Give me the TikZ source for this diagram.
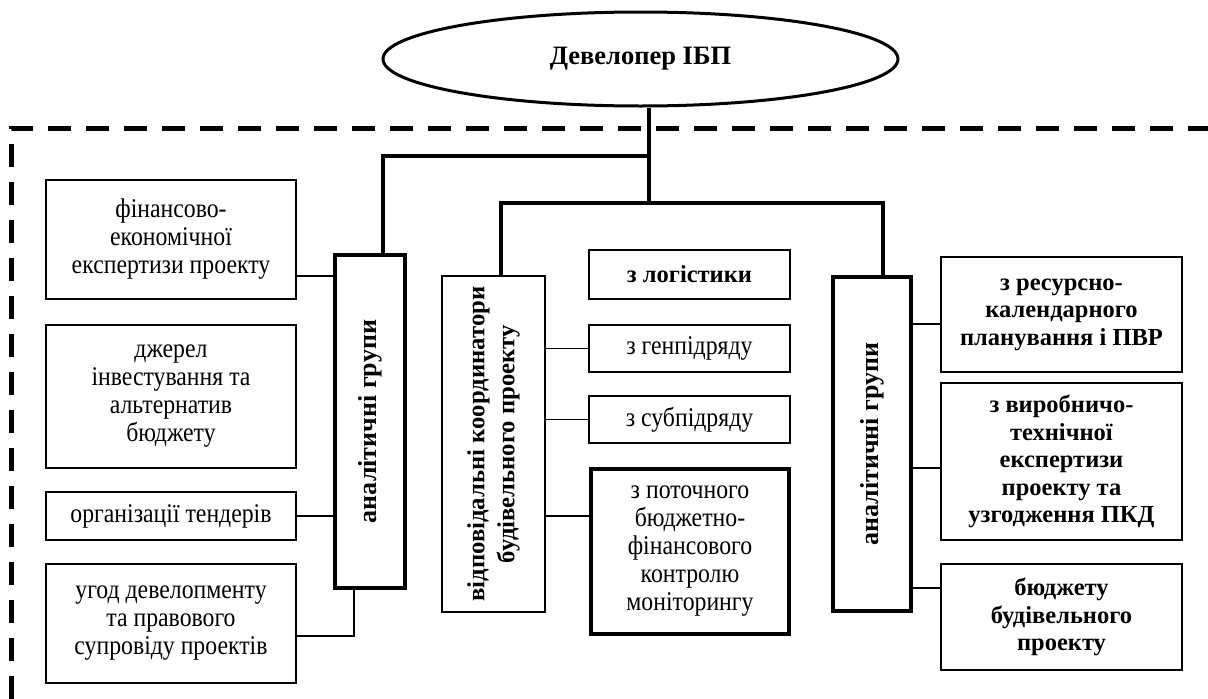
\documentclass[tikz,border=0pt]{standalone}
\usepackage{fontspec}
\setmainfont{Liberation Serif}
\newfontfamily\regfont{Liberation Serif}[FakeStretch=0.88]
\usetikzlibrary{shapes.geometric}
\tikzset{
  thinbox/.style={draw, line width=1.5pt, align=center, inner sep=0pt, font=\regfont\fontsize{27}{28}\selectfont},
  boldbox/.style={draw, line width=1.5pt, align=center, inner sep=0pt, font=\fontsize{24.5}{27.5}\selectfont\bfseries},
  thickbox/.style={thinbox, line width=4pt},
  vbox/.style={draw, line width=4pt, rotate=90, align=center, inner sep=0pt, font=\fontsize{26}{30}\selectfont\bfseries},
  thickline/.style={line width=4pt},
  thinline/.style={line width=1.5pt},
  frame/.style={line width=5pt, dash pattern=on 23pt off 15pt},
}
\begin{document}
\begin{tikzpicture}[x=1pt,y=-1pt]
\useasboundingbox (0,0) rectangle (1208,699);
% dashed frame
\draw[frame] (11,699) -- (11,128) -- (1208,128);
% top ellipse
\node[draw, ellipse, line width=3pt, minimum width=515pt, minimum height=94pt, inner sep=0pt,
      font=\fontsize{26.5}{28}\selectfont\bfseries] (dev) at (640.5,59) {Девелопер ІБП};
% left boxes
\node[thinbox, minimum width=250pt, minimum height=119pt] (fin) at (171,239.5) {фінансово-\\економічної\\експертизи проекту};
\node[thinbox, minimum width=250pt, minimum height=143pt] (dzh) at (171,396.5) {джерел\\інвестування та\\альтернатив\\бюджету};
\node[thinbox, minimum width=250pt, minimum height=48pt] (org) at (171,516) {організації тендерів};
\node[thinbox, minimum width=250pt, minimum height=119pt] (ugod) at (171,623.5) {угод девелопменту\\та правового\\супровіду проектів};
% left analytic groups
\node[vbox, minimum width=333pt, minimum height=70pt] (lag) at (370,421.5) {аналітичні групи};
% coordinators
\node[vbox, line width=1.5pt, minimum width=336pt, minimum height=103pt, font=\fontsize{24.7}{30}\selectfont\bfseries] (coord) at (493.5,444) {відповідальні координатори\\будівельного проекту};
% middle boxes
\node[boldbox, minimum width=201pt, minimum height=49pt] (log) at (689.5,274.5) {з логістики};
\node[thinbox, minimum width=201pt, minimum height=47pt] (gen) at (689.5,348.5) {з генпідряду};
\node[thinbox, minimum width=201pt, minimum height=47pt] (sub) at (689.5,419.5) {з субпідряду};
\node[thickbox, minimum width=198pt, minimum height=165pt] (pot) at (690,551.5) {з поточного\\бюджетно-\\фінансового\\контролю\\моніторингу};
% right analytic groups
\node[vbox, minimum width=334pt, minimum height=78pt] (rag) at (872,444) {аналітичні групи};
% right boxes
\node[boldbox, minimum width=241pt, minimum height=115pt] (res) at (1061.5,314.5) {з ресурсно-\\календарного\\планування і ПВР};
\node[boldbox, minimum width=241pt, minimum height=157pt] (vyr) at (1061.5,461.5) {з виробничо-\\технічної\\експертизи\\проекту та\\узгодження ПКД};
\node[boldbox, minimum width=241pt, minimum height=106pt] (bud) at (1061.5,617) {бюджету\\будівельного\\проекту};
% trunk
\coordinate (j1) at (649,156);
\coordinate (j2) at (649,203);
\draw[thickline] (dev.south -| j1) -- (j2);
\draw[thickline] (j1) -| ([xshift=13pt]lag.east);
\draw[thickline] ([xshift=7.5pt]coord.east) |- (j2) -| ([xshift=11pt]rag.east);
% left connectors (rotated nodes: north = page left, south = page right, west = page bottom)
\coordinate (f1) at ([yshift=-36.5pt]fin.east);
\draw[thinline] (f1) -- (f1 -| lag.north);
\draw[thinline] (org.east) -- (org.east -| lag.north);
\draw[thinline] ([yshift=-12.5pt]ugod.east) -| ([xshift=-16pt]lag.west);
% middle connectors
\draw[thinline] (gen.west) -- (gen.west -| coord.south);
\draw[thinline] (sub.west) -- (sub.west -| coord.south);
\coordinate (p1) at ([yshift=35.5pt]pot.west);
\draw[thinline] (p1) -- (p1 -| coord.south);
% right connectors
\coordinate (r1) at ([yshift=-9.5pt]res.west);
\coordinate (r2) at ([yshift=-6.5pt]vyr.west);
\coordinate (r3) at ([yshift=29pt]bud.west);
\draw[thinline] (r1) -- (r1 -| rag.south);
\draw[thinline] (r2) -- (r2 -| rag.south);
\draw[thinline] (r3) -- (r3 -| rag.south);
\end{tikzpicture}
\end{document}
